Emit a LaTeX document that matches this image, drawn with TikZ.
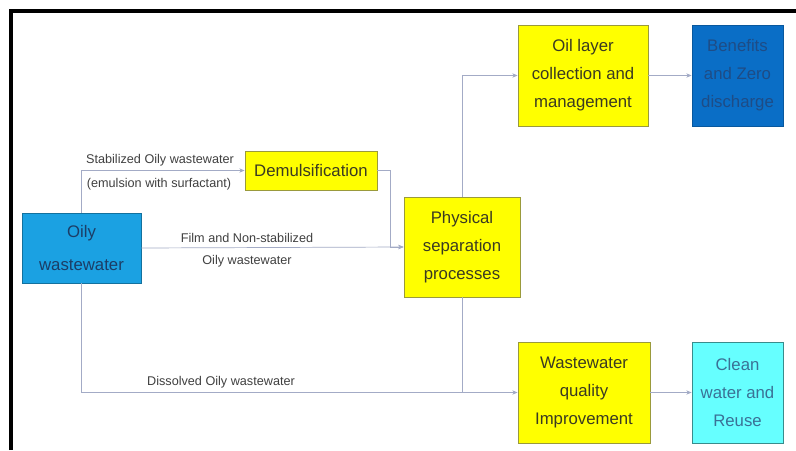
\documentclass[tikz,border=0pt]{standalone}
\usepackage{fontspec}
\setmainfont{Liberation Sans}
\usepackage{xcolor}
\usetikzlibrary{calc,arrows.meta,positioning}
\definecolor{linec}{HTML}{A3ABC6}
\definecolor{oilyc}{HTML}{1BA1E2}
\definecolor{oilyt}{HTML}{1C3D66}
\definecolor{yelc}{HTML}{FFFF00}
\definecolor{yeld}{HTML}{9A9A3C}
\definecolor{yelt}{HTML}{3A3A22}
\definecolor{benc}{HTML}{0A6EC6}
\definecolor{bent}{HTML}{1E4C86}
\definecolor{cleanc}{HTML}{66FFFF}
\definecolor{cleant}{HTML}{3A7196}
\tikzset{
  ar/.style={-{Stealth[length=1.6mm,width=1.3mm]},line width=0.6pt,linec},
  ln/.style={line width=0.6pt,linec},
  box/.style={draw,line width=0.7pt,align=center,inner sep=2pt,font=\fontsize{14.3}{24}\selectfont},
  ybox/.style={box,draw=yeld,fill=yelc,text=yelt},
  lbl/.style={font=\fontsize{10.8}{13}\selectfont,text=black!75,inner sep=1pt}
}
\begin{document}
\begin{tikzpicture}[x=0.03cm,y=-0.03cm]
\useasboundingbox (0,0) rectangle (796,450);
\fill[white] (0,0) rectangle (796,450);
\draw[line width=2.6pt] (11,450) -- (11,11) -- (796,11);
% boxes
\node[box,draw=oilyc!70!black,fill=oilyc,text=oilyt,minimum width=3.57cm,minimum height=2.1cm,font=\fontsize{14.3}{28}\selectfont] (oily) at (81.5,248) {Oily\\wastewater};
\node[ybox,minimum width=3.96cm,minimum height=1.17cm] (demul) at (311,170.5) {Demulsification};
\node[ybox,minimum width=3.48cm,minimum height=3cm] (phys) at (462,247) {Physical\\separation\\processes};
\node[ybox,minimum width=3.9cm,minimum height=3.03cm] (oil) at (583,75.5) {Oil layer\\collection and\\management};
\node[box,draw=benc!80!black,fill=benc,text=bent,minimum width=2.73cm,minimum height=3.03cm] (ben) at (737.5,75.5) {Benefits\\and Zero\\discharge};
\node[ybox,minimum width=3.96cm,minimum height=3.03cm] (wq) at (584,392.5) {Wastewater\\quality\\Improvement};
\node[box,draw=cleanc!55!black,fill=cleanc,text=cleant,minimum width=2.73cm,minimum height=3.03cm] (clean) at (737.5,392.5) {Clean\\water and\\Reuse};
% connectors
\draw[ar] (oily.north) |- (demul.west);
\draw[ar] (oily.east) -- (phys.west);
\draw[ar] (demul.east) -- ++(13,0) |- (phys.west);
\draw[ar] (oily.south) |- (wq.west);
\draw[ar] (phys.north) |- (oil.west);
\draw[ln] (phys.south) -- (phys.south |- wq.west);
\draw[ar] (oil.east) -- (ben.west);
\draw[ar] (wq.east) -- (clean.west);
% labels
\node[lbl] (l1) at (160,160) {Stabilized Oily wastewater};
\node[lbl] (l2) at (159,184) {(emulsion with surfactant)};
\node[lbl] (l3) at (247,238) {Film and Non-stabilized};
\node[lbl] (l4) at (247,261) {Oily wastewater};
\node[lbl] (l5) at (221,382) {Dissolved Oily wastewater};
\end{tikzpicture}
\end{document}
